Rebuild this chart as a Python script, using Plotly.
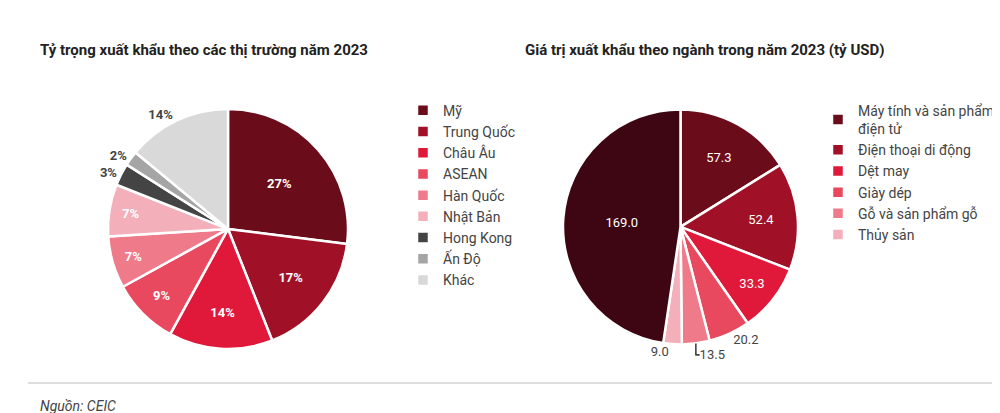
import plotly.graph_objects as go

markets = ["Mỹ", "Trung Quốc", "Châu Âu", "ASEAN", "Hàn Quốc", "Nhật Bản", "Hong Kong", "Ấn Độ", "Khác"]
market_share = [27, 17, 14, 9, 7, 7, 3, 2, 14]
market_colors = ["#6b0c1a", "#a01128", "#e0193a", "#e8495f", "#ee7a8a", "#f4b0ba", "#444444", "#a5a5a5", "#d9d9d9"]
market_pos = ["inside"] * 6 + ["outside"] * 3

sectors = ["Máy tính và sản phẩm<br>điện tử", "Điện thoại di động", "Dệt may", "Giày dép",
           "Gỗ và sản phẩm gỗ", "Thủy sản", "Khác"]
sector_value = [57.3, 52.4, 33.3, 20.2, 13.5, 9.0, 169.0]
sector_colors = ["#6b0c1a", "#a01128", "#e0193a", "#e8495f", "#ee7a8a", "#f4b0ba", "#3d0612"]
sector_pos = ["inside"] * 3 + ["outside"] * 3 + ["inside"]

FONT = "Roboto"
fig = go.Figure()
fig.add_trace(go.Pie(
    labels=markets, values=market_share, sort=False, direction="clockwise", rotation=0,
    marker=dict(colors=market_colors, line=dict(color="white", width=2.5)),
    texttemplate="<b>%{value}%</b>", textposition=market_pos,
    insidetextfont=dict(color="white", size=13, family=FONT),
    outsidetextfont=dict(color="#444", size=13, family=FONT),
    domain=dict(x=[0.10, 0.34], y=[0.17, 0.76]), legend="legend", hoverinfo="label+value"))
fig.add_trace(go.Pie(
    labels=sectors, values=sector_value, sort=False, direction="clockwise", rotation=0,
    marker=dict(colors=sector_colors, line=dict(color="white", width=2.5)),
    texttemplate="%{value:.1f}", textposition=sector_pos,
    insidetextfont=dict(color="white", size=13, family=FONT),
    outsidetextfont=dict(color="#444", size=13, family=FONT),
    domain=dict(x=[0.555, 0.79], y=[0.18, 0.76]), legend="legend2", hoverinfo="label+value"))

fig.update_layout(
    width=1000, height=413, margin=dict(l=0, r=0, t=0, b=0),
    paper_bgcolor="white", font=dict(family=FONT, color="#333"),
    legend=dict(x=0.395, y=0.79, xanchor="left", yanchor="top", font=dict(size=14, color="#444"),
                itemwidth=30, bgcolor="rgba(0,0,0,0)"),
    legend2=dict(x=0.81, y=0.79, xanchor="left", yanchor="top", font=dict(size=14, color="#444"),
                 itemwidth=30, bgcolor="rgba(0,0,0,0)"),
    annotations=[
        dict(text="<b>Tỷ trọng xuất khẩu theo các thị trường năm 2023</b>", x=0.03, y=1 - 42 / 413,
             xref="paper", yref="paper", xanchor="left", yanchor="middle", showarrow=False,
             font=dict(size=15, color="#222", family=FONT)),
        dict(text="<b>Giá trị xuất khẩu theo ngành trong năm 2023 (tỷ USD)</b>", x=0.515, y=1 - 42 / 413,
             xref="paper", yref="paper", xanchor="left", yanchor="middle", showarrow=False,
             font=dict(size=15, color="#222", family=FONT)),
        dict(text="<i>Nguồn: CEIC</i>", x=0.03, y=1 - 398 / 413, xref="paper", yref="paper",
             xanchor="left", yanchor="middle", showarrow=False, font=dict(size=14, color="#444", family=FONT)),
    ],
    shapes=[dict(type="line", xref="paper", yref="paper", x0=0.02, x1=0.985,
                 y0=1 - 375 / 413, y1=1 - 375 / 413, line=dict(color="#bbbbbb", width=1))],
)
fig.write_html("out.html")
